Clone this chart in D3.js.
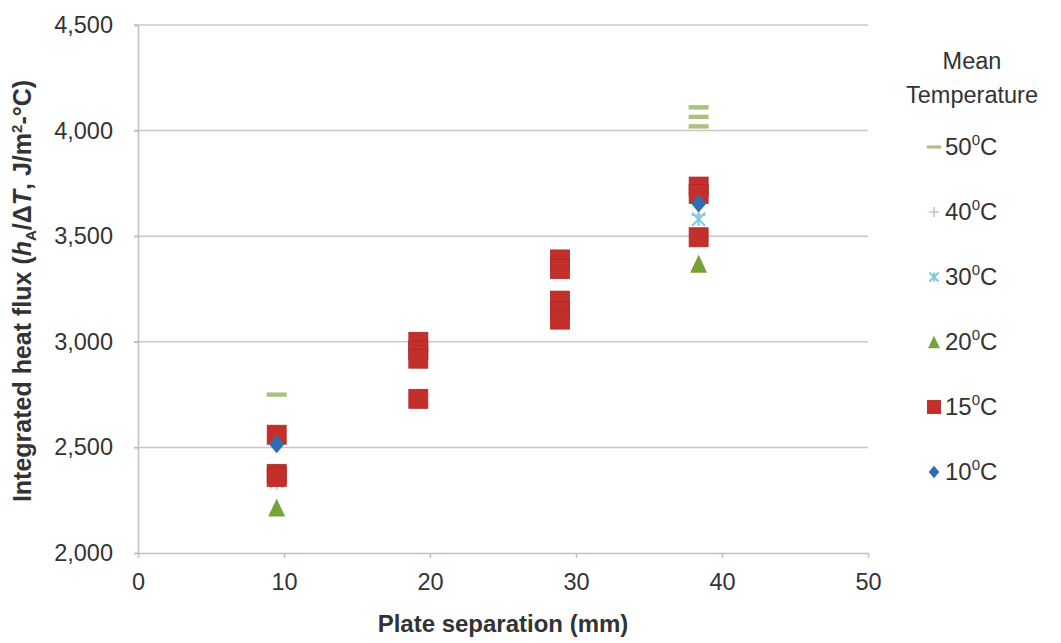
<!DOCTYPE html>
<html><head><meta charset="utf-8">
<script src="https://cdn.jsdelivr.net/npm/d3@7"></script>
<style>
html,body{margin:0;padding:0;background:#fff;}
svg{display:block;font-family:"Liberation Sans",Arial,sans-serif;}
</style></head>
<body>
<svg id="chart" width="1061" height="643"></svg>
<script>
// ---- data ----
const xTicks = [0, 10, 20, 30, 40, 50];
const yTicks = [2000, 2500, 3000, 3500, 4000, 4500];
const seriesNames = ["50", "40", "30", "20", "15", "10"];

const sep50 = [9.5, 38.4, 38.4, 38.4];
const flux50 = [2750, 4020, 4065, 4110];
const sep40 = [9.5, 38.4];
const flux40 = [2330, 3600];
const sep30 = [9.5, 38.4];
const flux30 = [2340, 3580];
const sep20 = [9.5, 38.4];
const flux20 = [2215, 3370];
const sep15 = [9.5, 9.5, 9.5, 19.2, 19.2, 19.2, 19.2, 28.9, 28.9, 28.9, 28.9, 28.9, 38.4, 38.4, 38.4];
const flux15 = [2560, 2375, 2360, 3000, 2960, 2920, 2730, 3390, 3345, 3195, 3145, 3105, 3735, 3700, 3495];
const sep10 = [9.5, 38.4];
const flux10 = [2515, 3655];

const seriesX = [sep50, sep40, sep30, sep20, sep15, sep10];
const seriesY = [flux50, flux40, flux30, flux20, flux15, flux10];

// ---- styles ----
const colors = {"50":"#a9c27e","40":"#b4c5d8","30":"#7fc9de","20":"#76a237","15":"#c3302b","10":"#2f6db2"};
const textColor = "#333333";

const svg = d3.select("#chart");
const L = 138, R = 868, T = 25, B = 553;
const x = d3.scaleLinear().domain([0, 50]).range([L, R]);
const y = d3.scaleLinear().domain([2000, 4500]).range([B, T]);

// gridlines
svg.append("g").selectAll("line").data(yTicks.slice(1)).join("line")
  .attr("x1", L - 4).attr("x2", R).attr("y1", d => y(d)).attr("y2", d => y(d))
  .attr("stroke", "#c8c8c8").attr("stroke-width", 1.5);

// y axis
const yAxis = d3.axisLeft(y).tickValues(yTicks).tickFormat(d3.format(",")).tickSize(4).tickPadding(21);
const gy = svg.append("g").attr("transform", `translate(${L},0)`).call(yAxis);
gy.select(".domain").attr("stroke", "#c0c0c0").attr("stroke-width", 1.5);
gy.selectAll(".tick line").attr("stroke", "#c0c0c0").attr("stroke-width", 1.5);
gy.selectAll("text").attr("fill", textColor).attr("font-size", 23.5).attr("font-family", "Liberation Sans, Arial, sans-serif");

// x axis
const xAxis = d3.axisBottom(x).tickValues(xTicks).tickSize(5).tickPadding(15).tickSizeOuter(0);
const gx = svg.append("g").attr("transform", `translate(0,${B})`).call(xAxis);
gx.select(".domain").attr("stroke", "#c0c0c0").attr("stroke-width", 1.5);
gx.selectAll(".tick line").attr("stroke", "#c0c0c0").attr("stroke-width", 1.5);
gx.selectAll("text").attr("fill", textColor).attr("font-size", 23.5).attr("font-family", "Liberation Sans, Arial, sans-serif");

// marker drawing
function drawMarker(sel, name, scale) {
  const s = scale || 1;
  const c = colors[name];
  if (name === "15") {
    sel.append("rect").attr("x", -9.5 * s).attr("y", -9.5 * s).attr("width", 19 * s).attr("height", 19 * s)
      .attr("fill", c).attr("stroke", "#a82a26").attr("stroke-width", 0.8);
  } else if (name === "10") {
    const r = 9 * s;
    sel.append("path").attr("d", `M0,${-r}L${r*0.85},0L0,${r}L${-r*0.85},0Z`).attr("fill", c);
  } else if (name === "20") {
    const h = 18 * s, w = 17 * s;
    sel.append("path").attr("d", `M0,${-h/2}L${w/2},${h/2}L${-w/2},${h/2}Z`).attr("fill", c);
  } else if (name === "50") {
    sel.append("rect").attr("x", -10 * s).attr("y", -2.2 * s).attr("width", 20 * s).attr("height", 4.4 * s).attr("fill", c);
  } else if (name === "40") {
    const r = 7 * s;
    sel.append("path").attr("d", `M${-r},0H${r}M0,${-r}V${r}`).attr("stroke", c).attr("stroke-width", 1.6).attr("fill", "none");
  } else if (name === "30") {
    const r = 6.5 * s;
    sel.append("path").attr("d", `M${-r},${-r}L${r},${r}M${r},${-r}L${-r},${r}M0,${-r}V${r}`)
      .attr("stroke", c).attr("stroke-width", 2).attr("fill", "none");
  }
}

// points
seriesNames.forEach((name, i) => {
  const g = svg.append("g").attr("class", "series-" + name);
  const pts = seriesX[i].map((v, j) => [v, seriesY[i][j]]);
  g.selectAll("g").data(pts).join("g")
    .attr("transform", d => `translate(${x(d[0])},${y(d[1])})`)
    .each(function() { drawMarker(d3.select(this), name); });
});

// axis titles
svg.append("text").attr("x", (L + R) / 2).attr("y", 632).attr("text-anchor", "middle")
  .attr("font-size", 24).attr("font-weight", "bold").attr("fill", textColor)
  .text("Plate separation (mm)");

const yt = svg.append("text").attr("transform", "translate(31,291) rotate(-90)")
  .attr("text-anchor", "middle").attr("font-size", 25).attr("font-weight", "bold").attr("fill", textColor);
yt.append("tspan").text("Integrated heat flux (");
yt.append("tspan").attr("font-style", "italic").text("h");
yt.append("tspan").attr("font-size", 15).attr("dy", 5).text("A");
yt.append("tspan").attr("dy", -5).text("/Δ");
yt.append("tspan").attr("font-style", "italic").text("T");
yt.append("tspan").text(", J/m");
yt.append("tspan").attr("font-size", 15).attr("dy", -9).text("2");
yt.append("tspan").attr("dy", 9).text("-°C)");

// legend
const lg = svg.append("g");
lg.append("text").attr("x", 972).attr("y", 69).attr("text-anchor", "middle").attr("font-size", 23.5).attr("fill", textColor).text("Mean");
lg.append("text").attr("x", 972).attr("y", 103).attr("text-anchor", "middle").attr("font-size", 23.5).attr("fill", textColor).text("Temperature");
const legendY = [147, 212, 277, 342, 407, 472];
seriesNames.forEach((name, i) => {
  const item = lg.append("g").attr("transform", `translate(934,${legendY[i]})`);
  drawMarker(item.append("g"), name, 0.7);
  const t = item.append("text").attr("x", 11).attr("y", 8).attr("font-size", 24).attr("fill", textColor);
  t.append("tspan").text(name);
  t.append("tspan").attr("font-size", 15).attr("dy", -10).text("0");
  t.append("tspan").attr("dy", 10).text("C");
});
</script>
</body></html>
